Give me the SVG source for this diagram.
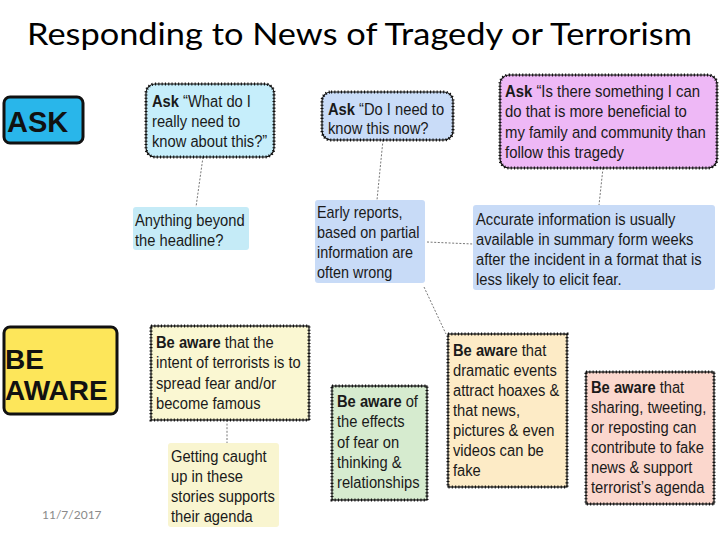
<svg xmlns="http://www.w3.org/2000/svg" width="720" height="540" viewBox="0 0 720 540">
<style>
.t{font-family:"Liberation Sans",Arial,sans-serif;font-size:16px;fill:#1a1a1a}
.b{font-weight:bold}
.wv{stroke:#111;stroke-width:1.2}
.wd{fill:none;stroke:#111;stroke-width:3;stroke-dasharray:1.1 2.2}
.big{font-family:"Liberation Sans",Arial,sans-serif;font-weight:bold;fill:#111}
.cn{fill:none;stroke:#777;stroke-width:1;stroke-dasharray:2 1.6}
</style>
<rect width="720" height="540" fill="#fff"/>
<text x="27" y="45" font-family="Lato,'Open Sans',sans-serif" font-size="31" fill="#000" textLength="665" lengthAdjust="spacingAndGlyphs">Responding to News of Tragedy or Terrorism</text>

<g id="connectors">
<line class="cn" x1="203" y1="157" x2="196" y2="207"/>
<line class="cn" x1="383" y1="140" x2="377" y2="200"/>
<line class="cn" x1="603" y1="168" x2="599" y2="205"/>
<line class="cn" x1="427" y1="242" x2="473" y2="244"/>
<line class="cn" x1="424" y1="287" x2="446" y2="334"/>
<line class="cn" x1="227" y1="420" x2="227" y2="443"/>
</g>

<g id="ask-label">
<rect x="4" y="97" width="79" height="46" rx="6" fill="#29b6ea" stroke="#111" stroke-width="3"/>
<text class="big" font-size="29" x="7" y="132">ASK</text>
</g>

<g id="beaware-label">
<rect x="4" y="327" width="113" height="87" rx="6" fill="#fde65a" stroke="#111" stroke-width="3"/>
<text class="big" font-size="28" x="5" y="369">BE</text>
<text class="big" font-size="28" x="5" y="400">AWARE</text>
</g>

<g id="ask1">
<rect x="146" y="84" width="128" height="73" rx="9" fill="#c6eefb" class="wv"/>
<rect x="146" y="84" width="128" height="73" rx="9" class="wd"/>
<text class="t" transform="translate(152,107) scale(0.92,1)"><tspan x="0"><tspan class="b">Ask</tspan> “What do I</tspan><tspan x="0" dy="20">really need to</tspan><tspan x="0" dy="20">know about this?”</tspan></text>
</g>

<g id="anything">
<rect x="133" y="207" width="116" height="43" rx="3" fill="#c5ebf7"/>
<text class="t" transform="translate(135,226) scale(0.92,1)"><tspan x="0">Anything beyond</tspan><tspan x="0" dy="20">the headline?</tspan></text>
</g>

<g id="ask2">
<rect x="322" y="92" width="131" height="48" rx="9" fill="#c9dcf8" class="wv"/>
<rect x="322" y="92" width="131" height="48" rx="9" class="wd"/>
<text class="t" transform="translate(328,115) scale(0.92,1)"><tspan x="0"><tspan class="b">Ask</tspan> “Do I need to</tspan><tspan x="0" dy="19.5">know this now?</tspan></text>
</g>

<g id="ask3">
<rect x="500" y="75" width="217" height="93" rx="9" fill="#eeb8f6" class="wv"/>
<rect x="500" y="75" width="217" height="93" rx="9" class="wd"/>
<text class="t" transform="translate(505,97) scale(0.93,1)"><tspan x="0"><tspan class="b">Ask</tspan> “Is there something I can</tspan><tspan x="0" dy="20.3">do that is more beneficial to</tspan><tspan x="0" dy="20.3">my family and community than</tspan><tspan x="0" dy="20.3">follow this tragedy</tspan></text>
</g>

<g id="early">
<rect x="315" y="200" width="110" height="83" rx="3" fill="#c8dbf7"/>
<text class="t" transform="translate(317,218) scale(0.9,1)"><tspan x="0">Early reports,</tspan><tspan x="0" dy="20">based on partial</tspan><tspan x="0" dy="20">information are</tspan><tspan x="0" dy="20">often wrong</tspan></text>
</g>

<g id="accurate">
<rect x="473" y="205" width="242" height="85" rx="3" fill="#c8dbf7"/>
<text class="t" transform="translate(476,225) scale(0.92,1)"><tspan x="0">Accurate information is usually</tspan><tspan x="0" dy="20">available in summary form weeks</tspan><tspan x="0" dy="20">after the incident in a format that is</tspan><tspan x="0" dy="20">less likely to elicit fear.</tspan></text>
</g>

<g id="aware1">
<rect x="151" y="326" width="158" height="94" fill="#faf7d2" class="wv"/>
<rect x="151" y="326" width="158" height="94" class="wd"/>
<text class="t" transform="translate(156,348) scale(0.92,1)"><tspan x="0"><tspan class="b">Be aware</tspan> that the</tspan><tspan x="0" dy="20.3">intent of terrorists is to</tspan><tspan x="0" dy="20.3">spread fear and/or</tspan><tspan x="0" dy="20.3">become famous</tspan></text>
</g>

<g id="caught">
<rect x="168" y="443" width="111" height="84" rx="3" fill="#f9f5d0"/>
<text class="t" transform="translate(171,462) scale(0.92,1)"><tspan x="0">Getting caught</tspan><tspan x="0" dy="20">up in these</tspan><tspan x="0" dy="20">stories supports</tspan><tspan x="0" dy="20">their agenda</tspan></text>
</g>

<g id="aware2">
<rect x="332" y="386" width="95" height="114" fill="#d6ebcf" class="wv"/>
<rect x="332" y="386" width="95" height="114" class="wd"/>
<text class="t" transform="translate(337,407) scale(0.92,1)"><tspan x="0"><tspan class="b">Be aware</tspan> of</tspan><tspan x="0" dy="20.3">the effects</tspan><tspan x="0" dy="20.3">of fear on</tspan><tspan x="0" dy="20.3">thinking &amp;</tspan><tspan x="0" dy="20.3">relationships</tspan></text>
</g>

<g id="aware3">
<rect x="448" y="334" width="119" height="153" fill="#fdebc6" class="wv"/>
<rect x="448" y="334" width="119" height="153" class="wd"/>
<text class="t" transform="translate(453,356) scale(0.92,1)"><tspan x="0"><tspan class="b">Be awar</tspan>e that</tspan><tspan x="0" dy="20">dramatic events</tspan><tspan x="0" dy="20">attract hoaxes &amp;</tspan><tspan x="0" dy="20">that news,</tspan><tspan x="0" dy="20">pictures &amp; even</tspan><tspan x="0" dy="20">videos can be</tspan><tspan x="0" dy="20">fake</tspan></text>
</g>

<g id="aware4">
<rect x="586" y="372" width="128" height="132" fill="#fbd7cd" class="wv"/>
<rect x="586" y="372" width="128" height="132" class="wd"/>
<text class="t" transform="translate(591,393) scale(0.92,1)"><tspan x="0"><tspan class="b">Be aware</tspan> that</tspan><tspan x="0" dy="20">sharing, tweeting,</tspan><tspan x="0" dy="20">or reposting can</tspan><tspan x="0" dy="20">contribute to fake</tspan><tspan x="0" dy="20">news &amp; support</tspan><tspan x="0" dy="20">terrorist’s agenda</tspan></text>
</g>

<text x="42" y="519" font-family="Lato,'Open Sans',sans-serif" font-size="12" fill="#8a8a8a">11/7/2017</text>
</svg>
